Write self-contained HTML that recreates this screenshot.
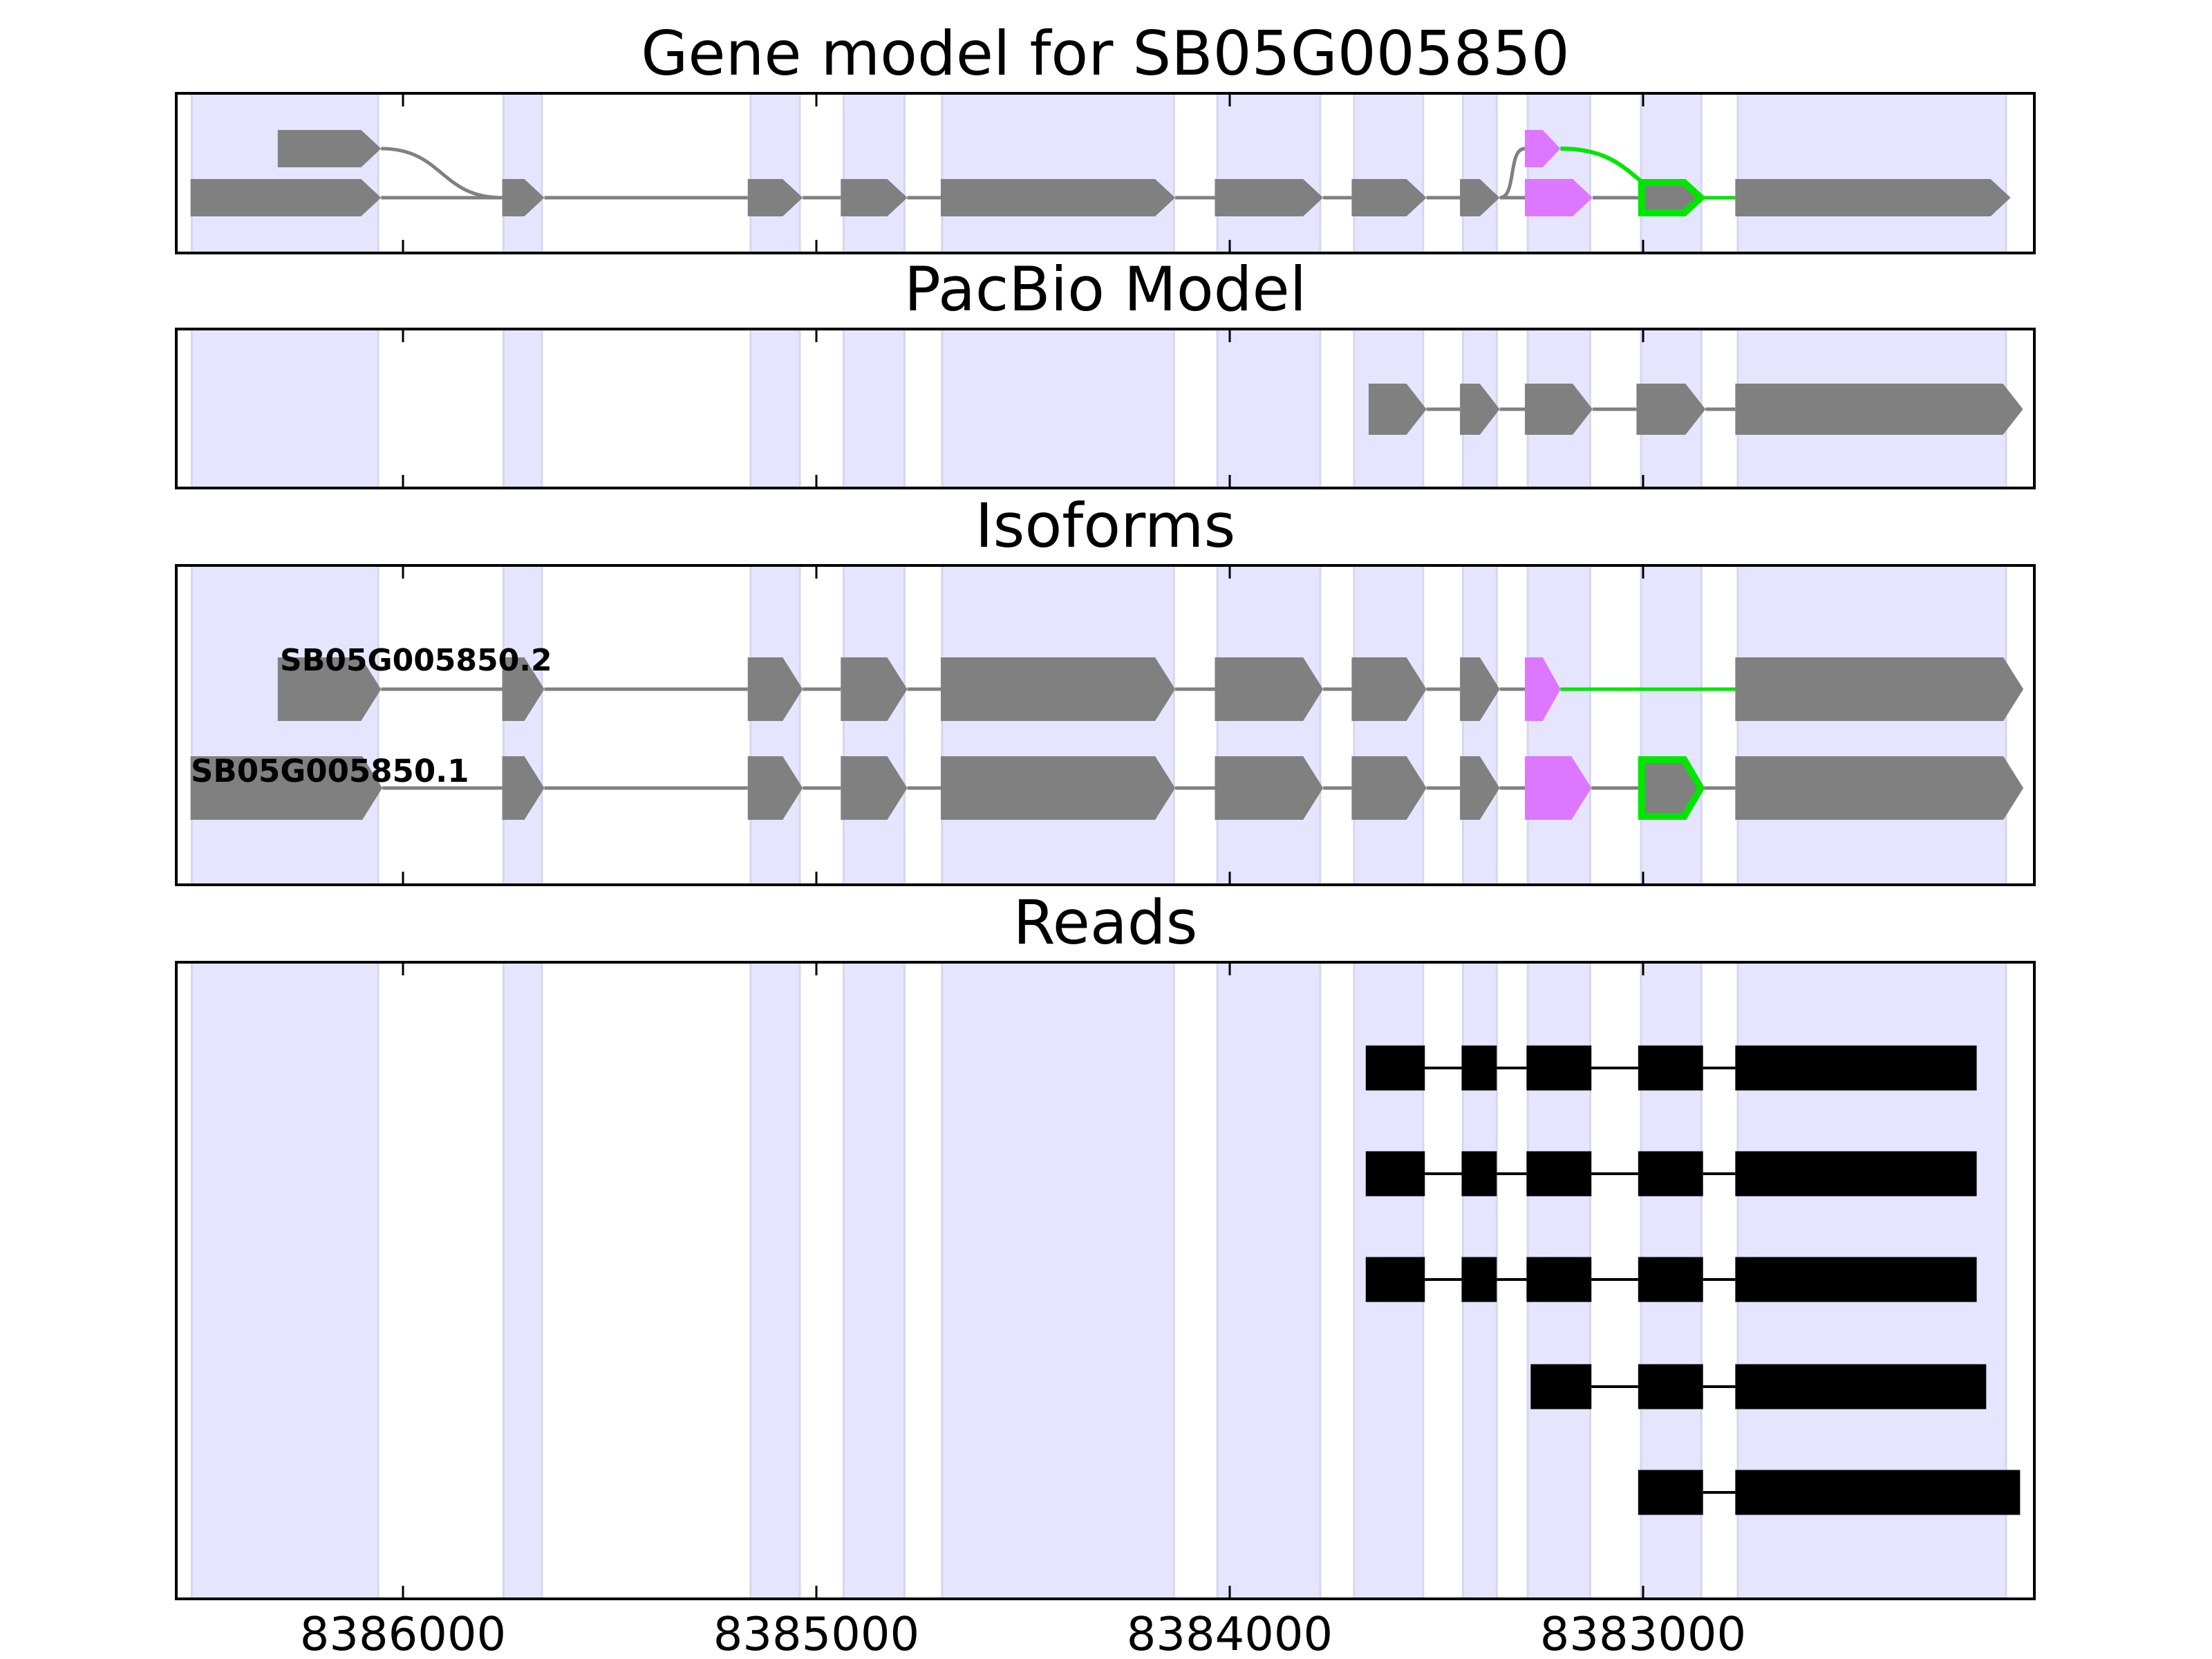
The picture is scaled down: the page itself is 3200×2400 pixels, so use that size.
<!DOCTYPE html>
<html><head><meta charset="utf-8"><style>
html,body{margin:0;padding:0;background:#fff;}
svg{display:block;}
text{font-family:"DejaVu Sans","Liberation Sans",sans-serif;}
</style></head><body>
<svg id="chart" width="3200" height="2400" viewBox="0 0 3200 2400" xmlns="http://www.w3.org/2000/svg"></svg>
<script>
const ticks=[8386000,8385000,8384000,8383000];
const tickLabels=['8386000','8385000','8384000','8383000'];
const bands=[[8386511,8386060],[8385757,8385664],[8385159,8385040],[8384934,8384787],[8384696,8384135],[8384030,8383781],[8383699,8383532],[8383436,8383354],[8383279,8383128],[8383005,8382859],[8382771,8382122]];
const geneLower=[[8386514,8386053],[8385760,8385658],[8385166,8385033],[8384941,8384780],[8384699,8384132],[8384036,8383774],[8383705,8383524],[8383443,8383347],[8383286,8383122],[8383012,8382852],[8382777,8382111]];
const geneLowerKinds=['g','g','g','g','g','g','g','g','p','o','g'];
const geneUpper=[[8386303,8386053],[8383286,8383200]];
const geneUpperKinds=['g','p'];
const pacbio=[[8383664,8383524],[8383443,8383347],[8383286,8383122],[8383016,8382849],[8382777,8382081]];
const iso2=[[8386303,8386053],[8385760,8385658],[8385166,8385033],[8384941,8384780],[8384699,8384132],[8384036,8383774],[8383705,8383524],[8383443,8383347],[8383286,8383200],[8382777,8382080]];
const iso2Kinds=['g','g','g','g','g','g','g','g','p','g'];
const iso1=[[8386514,8386050],[8385760,8385658],[8385166,8385033],[8384941,8384780],[8384699,8384132],[8384036,8383774],[8383705,8383524],[8383443,8383347],[8383286,8383125],[8383012,8382852],[8382777,8382080]];
const iso1Kinds=['g','g','g','g','g','g','g','g','p','o','g'];
const read1=[[8383671,8383528],[8383439,8383354],[8383282,8383125],[8383012,8382855],[8382777,8382193]];
const read2=[[8383671,8383528],[8383439,8383354],[8383282,8383125],[8383012,8382855],[8382777,8382193]];
const read3=[[8383671,8383528],[8383439,8383354],[8383282,8383125],[8383012,8382855],[8382777,8382193]];
const read4=[[8383272,8383125],[8383012,8382855],[8382777,8382170]];
const read5=[[8383012,8382855],[8382777,8382088]];

const NS='http://www.w3.org/2000/svg';
const svg=document.getElementById('chart');
const L=255,R=2943;
function x(v){return 583+(8386000-v)*0.598;}
function mk(tag,attrs,parent){const e=document.createElementNS(NS,tag);for(const k in attrs)e.setAttribute(k,attrs[k]);(parent||svg).appendChild(e);return e;}
const COL={g:'#808080',p:'#dd77ff',o:'#808080'};
const panels=[
 {name:'gene-model-panel',title:'Gene model for SB05G005850',top:135,bot:366,fs:88},
 {name:'pacbio-panel',title:'PacBio Model',top:476,bot:706,fs:88},
 {name:'isoforms-panel',title:'Isoforms',top:818,bot:1280,fs:88},
 {name:'reads-panel',title:'Reads',top:1392,bot:2313,fs:88}];
const groups=[];
panels.forEach(p=>{
 const g=mk('g',{});
 
 
 groups.push(g);
 bands.forEach(b=>{
  const r=mk('rect',{x:x(b[0]),y:p.top,width:x(b[1])-x(b[0]),height:p.bot-p.top,fill:'#e5e5ff',stroke:'#d6d6ee','stroke-width':3},g);
  
  
 });
 const t=mk('text',{x:(L+R)/2,y:p.top-27,'font-size':p.fs,'text-anchor':'middle',fill:'#000'},g);
 t.textContent=p.title;
 
 
});
function exon(g,s,e,cy,h,kind,arrow){
 const xa=x(s),xb=x(e),top=cy-h/2,bot=cy+h/2;
 let el;
 if(arrow){
  const tp=Math.min(29,(xb-xa)/2);
  if(kind==='o'){
   const i=5;
   el=mk('polygon',{points:`${xa+i},${top+i} ${xb-tp},${top+i} ${xb-i},${cy} ${xb-tp},${bot-i} ${xa+i},${bot-i}`,fill:'#808080',stroke:'#00e600','stroke-width':10},g);
  } else {
   el=mk('polygon',{points:`${xa},${top} ${xb-tp},${top} ${xb},${cy} ${xb-tp},${bot} ${xa},${bot}`,fill:COL[kind]},g);
  }
 } else {
  el=mk('rect',{x:xa,y:top,width:xb-xa,height:h,fill:'#000'},g);
 }
 
 
}
function row(g,ex,kinds,cy,h,lineCol,arrow,lw){
 for(let i=1;i<ex.length;i++){
  const ln=mk('line',{x1:x(ex[i-1][1]),y1:cy,x2:x(ex[i][0]),y2:cy,stroke:lineCol,'stroke-width':lw},g);
  
  
 }
 ex.forEach((e,i)=>exon(g,e[0],e[1],cy,h,kinds?kinds[i]:'g',arrow));
}
// Panel 1
{const g=groups[0];
 const c1=mk('path',{d:`M${x(geneUpper[0][1])},215 C${x(geneUpper[0][1])+90},215 ${x(geneLower[1][0])-90},286 ${x(geneLower[1][0])},286`,fill:'none',stroke:'#808080','stroke-width':5},g);
 
 
 const c2=mk('path',{d:`M${x(geneLower[7][1])},286 C${x(geneLower[7][1])+25},286 ${x(geneUpper[1][0])-25},215 ${x(geneUpper[1][0])},215`,fill:'none',stroke:'#808080','stroke-width':5},g);
 
 
 const c3=mk('path',{d:`M${x(geneUpper[1][1])},215 C${x(geneUpper[1][1])+110},215 ${x(geneLower[9][0])-10},286 ${x(geneLower[9][0])+70},286`,fill:'none',stroke:'#00e600','stroke-width':6},g);
 
 
 row(g,geneLower,geneLowerKinds,286,54,'#808080',true,5);
 const gl=mk('line',{x1:x(geneLower[9][1]),y1:286,x2:x(geneLower[10][0]),y2:286,stroke:'#00e600','stroke-width':4},g);
 
 
 geneUpper.forEach((e,i)=>exon(g,e[0],e[1],215,54,geneUpperKinds[i],true));
}
// Panel 2
row(groups[1],pacbio,null,592,74,'#808080',true,5);
// Panel 3
{const g=groups[2];
 row(g,iso2,iso2Kinds,997,92,'#808080',true,5);
 const gl=mk('line',{x1:x(iso2[8][1]),y1:997,x2:x(iso2[9][0]),y2:997,stroke:'#00e600','stroke-width':5},g);
 
 
 exon(g,iso2[8][0],iso2[8][1],997,92,'p',true);
 row(g,iso1,iso1Kinds,1140,92,'#808080',true,5);
 const l2=mk('text',{x:405,y:970,'font-size':44,'font-weight':'bold',fill:'#000'},g);
 l2.textContent='SB05G005850.2';
 
 
 const l1=mk('text',{x:276,y:1131,'font-size':45,'font-weight':'bold',fill:'#000'},g);
 l1.textContent='SB05G005850.1';
 
 
}
// Panel 4
{const g=groups[3];
 const reads=[read1,read2,read3,read4,read5];
 const cys=[1545,1698,1851,2006,2159];
 reads.forEach((r,i)=>row(g,r,null,cys[i],65,'#000',false,4));
}
// frames + ticks
panels.forEach((p,pi)=>{
 const g=groups[pi];
 ticks.forEach(t=>{
  const a=mk('line',{x1:x(t),y1:p.top,x2:x(t),y2:p.top+19,stroke:'#000','stroke-width':3},g);
  
  
  const b=mk('line',{x1:x(t),y1:p.bot,x2:x(t),y2:p.bot-19,stroke:'#000','stroke-width':3},g);
  
  
 });
 const f=mk('rect',{x:L,y:p.top,width:R-L,height:p.bot-p.top,fill:'none',stroke:'#000','stroke-width':4},g);
 
 
});
ticks.forEach((t,i)=>{
 const tx=mk('text',{x:x(t),y:2387,'font-size':67,'text-anchor':'middle',fill:'#000'});
 tx.textContent=tickLabels[i];
 
 
});
</script>
</body></html>
